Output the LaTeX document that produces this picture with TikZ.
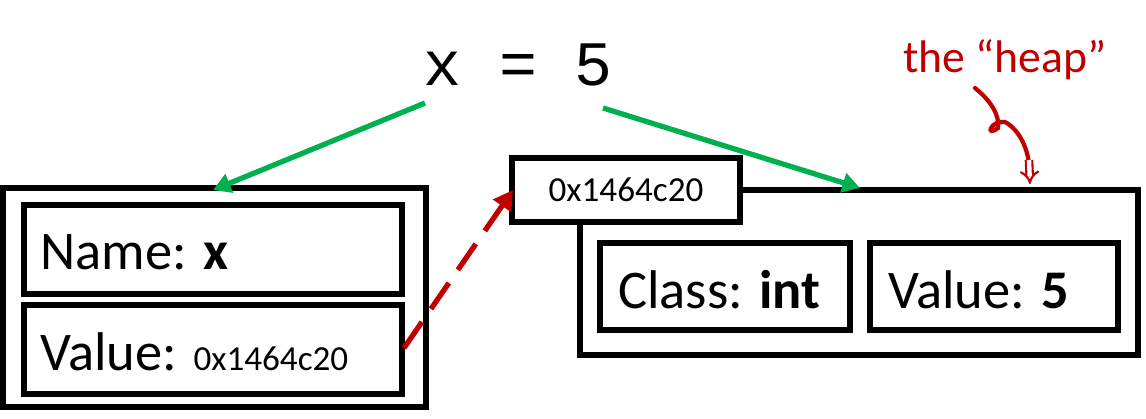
\documentclass[tikz,border=0pt]{standalone}
\usepackage{fontspec}
\setmainfont{Carlito}
\newfontfamily\codefont{Liberation Mono}
\usetikzlibrary{arrows.meta}
\definecolor{arrowgreen}{RGB}{0,176,80}
\definecolor{heapred}{RGB}{192,0,0}
\tikzset{
  box/.style={draw=black, line width=3.4pt, fill=white, inner sep=0pt},
  lbl/.style={font=\fontsize{31}{33}\selectfont, anchor=west, inner sep=0pt},
  small/.style={font=\fontsize{20}{22}\selectfont},
  ptr/.style={arrowgreen, line width=3pt, -{Triangle[length=10pt,width=11pt]}}
}
\begin{document}
\begin{tikzpicture}[x=0.02cm, y=-0.02cm]
  \useasboundingbox (0,0) rectangle (1146,419);
  % variable
  \draw[box] (3,188) rectangle (426,407);
  \draw[box] (24,205) rectangle (402,294);
  \draw[box] (24,305) rectangle (402,394);
  \node[lbl] (name) at (40,252) {Name: \textbf{x}};
  \node[lbl] (value) at (40,352) {Value: {\fontsize{20}{22}\selectfont 0x1464c20}};
  % object
  \draw[box] (580,190) rectangle (1138,355);
  \draw[box] (600,243) rectangle (850,330);
  \draw[box] (870,243) rectangle (1118,330);
  \node[lbl] (cls) at (618,290) {Class: \textbf{int}};
  \node[lbl] (val) at (888,290) {Value: \textbf{5}};
  \draw[box] (512,158) rectangle (740,222);
  \node[small] (addr) at (626,190) {0x1464c20};
  % statement
  \node[font=\codefont\fontsize{36}{38}\selectfont] (stmt) at (518,65) {x = 5};
  \coordinate (sl) at (425,103);
  \coordinate (sr) at (603,108);
  \coordinate (vl) at (213,190);
  \coordinate (vr) at (860,188);
  \draw[ptr] (sl) -- (vl);
  \draw[ptr] (sr) -- (vr);
  % reference
  \coordinate (vend) at (404,348);
  \coordinate (aend) at (513,190);
  \draw[heapred, line width=3pt, dash pattern=on 18pt off 9pt, -{Triangle[length=11pt,width=12pt]}] (vend) -- (aend);
  % heap note
  \node[heapred, font=\fontsize{26}{28}\selectfont] (heap) at (1005,60) {the ``heap''};
  \coordinate (c1) at (975,88);
  \coordinate (c2) at (1030,184);
  \draw[heapred, line width=2.4pt, line cap=round]
    (c1) .. controls (990,100) and (1000,115) .. (998,128)
         .. controls (985,138) and (990,120) .. (1005,122)
         .. controls (1020,130) and (1028,150) .. (1029,165);
  \draw[heapred, line width=1.2pt, double=white, double distance=2.5pt, -{Implies[]}] (1029,160) -- (c2);
\end{tikzpicture}
\end{document}
